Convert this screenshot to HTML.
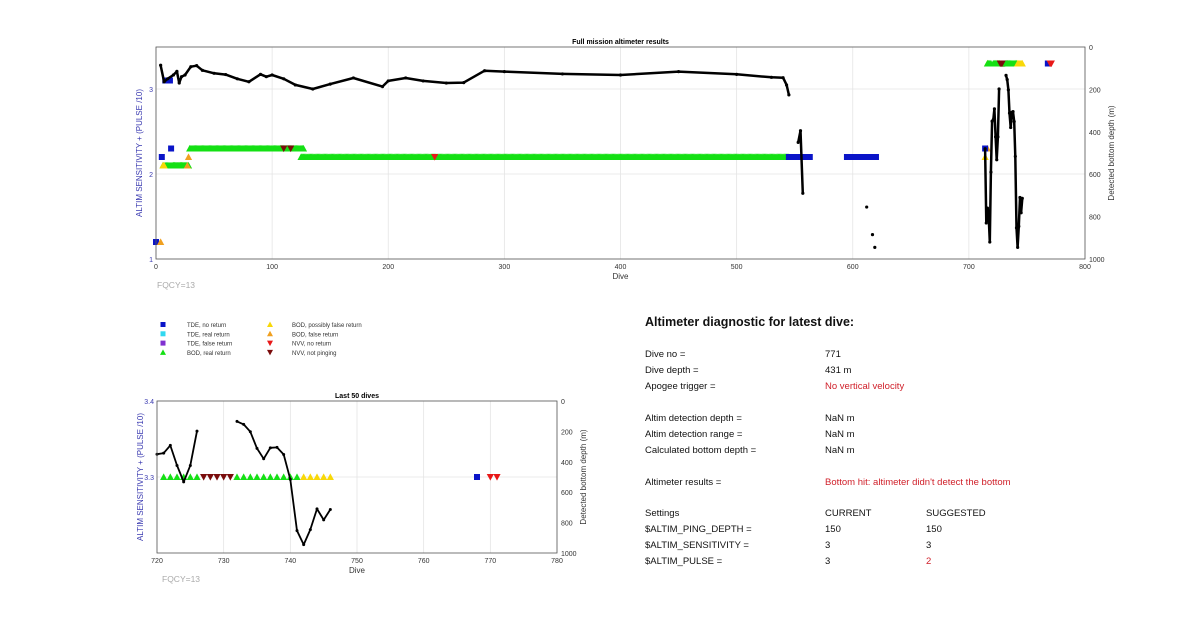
<!DOCTYPE html>
<html><head><meta charset="utf-8"><style>
html,body{margin:0;padding:0;background:#fff;width:1200px;height:622px;overflow:hidden}
svg{display:block;font-family:"Liberation Sans",sans-serif}
</style></head><body>
<svg id="svg" width="1200" height="622" viewBox="0 0 1200 622" xmlns="http://www.w3.org/2000/svg">
<g id="top"></g>
<g id="bot"></g>
<g id="legend"></g>
<g id="diag" font-size="9.5" fill="#111">
<text x="645" y="326" font-size="12.5" font-weight="bold">Altimeter diagnostic for latest dive:</text>
<text x="645" y="357">Dive no =</text><text x="825" y="357">771</text>
<text x="645" y="373">Dive depth =</text><text x="825" y="373">431 m</text>
<text x="645" y="389">Apogee trigger =</text><text x="825" y="389" fill="#d0202a">No vertical velocity</text>
<text x="645" y="421">Altim detection depth =</text><text x="825" y="421">NaN m</text>
<text x="645" y="437">Altim detection range =</text><text x="825" y="437">NaN m</text>
<text x="645" y="453">Calculated bottom depth =</text><text x="825" y="453">NaN m</text>
<text x="645" y="485">Altimeter results =</text><text x="825" y="485" fill="#d0202a">Bottom hit: altimeter didn't detect the bottom</text>
<text x="645" y="516">Settings</text><text x="825" y="516">CURRENT</text><text x="926" y="516">SUGGESTED</text>
<text x="645" y="532">$ALTIM_PING_DEPTH =</text><text x="825" y="532">150</text><text x="926" y="532">150</text>
<text x="645" y="548">$ALTIM_SENSITIVITY =</text><text x="825" y="548">3</text><text x="926" y="548">3</text>
<text x="645" y="564">$ALTIM_PULSE =</text><text x="825" y="564">3</text><text x="926" y="564" fill="#d0202a">2</text>
</g>
</svg>
<script>
// ---- data ----
const depthDives = [4,7,10,15,18,20,22,25,30,35,40,50,60,70,80,90,95,100,110,120,135,150,170,195,200,215,230,250,265,283,300,350,400,450,500,530,540,543,545,null,553,555,557,null,612,null,617,null,619,null,714,715,716,717,718,719,720,721,722,723,724,725,726,null,732,733,734,735,736,737,738,739,740,741,742,743,744,745,746];
const depthVals  = [86,164,150,132,115,170,140,132,93,88,110,124,130,150,164,129,140,132,150,179,198,175,146,187,160,146,160,170,168,112,116,127,132,116,129,143,145,179,226,null,450,395,690,null,755,null,885,null,945,null,480,830,760,790,920,590,350,343,292,424,532,424,198,null,134,154,202,312,380,308,305,352,516,853,945,846,710,782,714];
// marker runs: type, first dive, last dive, value
const runType  = ['tde_no','bod_false','tde_no','tde_no','bod_real','bod_pfalse','bod_real','bod_false','tde_no','bod_false','bod_real','bod_real','nvv_np','nvv_np','bod_real','nvv_no','tde_no','tde_no','tde_no','bod_pfalse','bod_false','tde_no','bod_pfalse','bod_real','bod_real','nvv_np','bod_real','bod_pfalse','tde_no','nvv_no'];
const runStart = [0,4,5,13,6,6,15,27,8,28,29,125,110,116,125,240,545,595,556,714,716,714,716,716,721,727,732,742,768,770];
const runEnd   = [0,4,5,13,28,7,26,27,12,28,127,545,110,116,125,240,563,620,556,714,716,714,716,719,726,731,741,746,768,771];
const runVal   = [1.2,1.2,2.2,2.3,2.1,2.1,2.1,2.1,3.1,2.2,2.3,2.2,2.3,2.3,2.2,2.2,2.2,2.2,2.2,2.2,2.3,2.3,3.3,3.3,3.3,3.3,3.3,3.3,3.3,3.3];
const topXTicks=[0,100,200,300,400,500,600,700,800];
const topYTicks=[1,2,3];
const rTicks=[0,200,400,600,800,1000];
const botXTicks=[720,730,740,750,760,770,780];
const botYTicks=['3.3','3.4'];
// ---- helpers ----
const NS='http://www.w3.org/2000/svg';
function mk(tag,attrs,parent){const e=document.createElementNS(NS,tag);for(const k in attrs)e.setAttribute(k,attrs[k]);parent.appendChild(e);return e;}
const colors={tde_no:'#0a14c8',tde_real:'#30d8f0',tde_false:'#8030d0',bod_real:'#14e014',bod_pfalse:'#f8d808',bod_false:'#f0a020',nvv_no:'#e81818',nvv_np:'#7a0c0c'};
function marker(type,cx,cy,s,g){
  let el;
  if(type.startsWith('tde')) el=mk('rect',{x:cx-s*0.5,y:cy-s*0.5,width:s,height:s,fill:colors[type]},g);
  else if(type.startsWith('bod')) el=mk('polygon',{points:`${cx-s*0.6},${cy+s*0.5} ${cx+s*0.6},${cy+s*0.5} ${cx},${cy-s*0.6}`,fill:colors[type]},g);
  else el=mk('polygon',{points:`${cx-s*0.6},${cy-s*0.5} ${cx+s*0.6},${cy-s*0.5} ${cx},${cy+s*0.6}`,fill:colors[type]},g);
  
  
  return el;
}
function chart(g,o){
  const X=d=>o.l+(d-o.x0)/(o.x1-o.x0)*(o.r-o.l);
  const Y=v=>o.b-(v-o.y0)/(o.y1-o.y0)*(o.b-o.t);
  const R=v=>o.t+v/1000*(o.b-o.t);
  o.xt.forEach(t=>{const l=mk('line',{x1:X(t),x2:X(t),y1:o.t,y2:o.b,stroke:'#e4e4e4','stroke-width':0.8},g);
    });
  o.yt.forEach(t=>{const l=mk('line',{x1:o.l,x2:o.r,y1:Y(+t),y2:Y(+t),stroke:'#e4e4e4','stroke-width':0.8},g);
    });
  const mg=mk('g',{},g);
  runType.forEach((t,i)=>{for(let d=runStart[i];d<=runEnd[i];d++){if(d<o.x0||d>o.x1)continue;marker(t,X(d),Y(runVal[i]),o.ms,mg);}});
  let path='',pen=false;const pts=[];
  depthDives.forEach((d,i)=>{const v=depthVals[i];if(d===null||v===null||d<o.x0||d>o.x1){pen=false;return;}
    path+=(pen?'L':'M')+X(d).toFixed(1)+' '+R(v).toFixed(1)+' ';pen=true;pts.push([X(d),R(v)]);});
  const p=mk('path',{d:path,fill:'none',stroke:'#000','stroke-width':o.lw,'stroke-linejoin':'round'},g);
  
  pts.forEach(q=>{const c=mk('circle',{cx:q[0],cy:q[1],r:o.pr,fill:'#000'},g);});
  const f=mk('rect',{x:o.l,y:o.t,width:o.r-o.l,height:o.b-o.t,fill:'none',stroke:'#555','stroke-width':0.8},g);
  
  o.xt.forEach(t=>{const tx=mk('text',{x:X(t),y:o.b+10,'font-size':o.fs,'text-anchor':'middle',fill:'#333'},g);tx.textContent=t;
    });
  o.yt.forEach(t=>{const tx=mk('text',{x:o.l-3,y:Y(+t)+3,'font-size':o.fs,'text-anchor':'end',fill:'#3a3ab0'},g);tx.textContent=t;
    });
  rTicks.forEach(t=>{const tx=mk('text',{x:o.r+4,y:R(t)+3,'font-size':o.fs,fill:'#333'},g);tx.textContent=t;
    });
  const ti=mk('text',{x:(o.l+o.r)/2,y:o.t-3,'font-size':7,'font-weight':'bold','text-anchor':'middle',fill:'#000'},g);ti.textContent=o.title;
  
  const xl=mk('text',{x:(o.l+o.r)/2,y:o.b+20,'font-size':8,'text-anchor':'middle',fill:'#333'},g);xl.textContent='Dive';
  
  const yl=mk('text',{transform:`translate(${o.l-14},${(o.t+o.b)/2}) rotate(-90)`,'font-size':8,'text-anchor':'middle',fill:'#3a3ab0'},g);yl.textContent='ALTIM SENSITIVITY + (PULSE /10)';
  
  const rl=mk('text',{transform:`translate(${o.r+29},${(o.t+o.b)/2}) rotate(-90)`,'font-size':8,'text-anchor':'middle',fill:'#333'},g);rl.textContent='Detected bottom depth (m)';
  
  const fq=mk('text',{x:o.l+o.fqdx,y:o.b+29,'font-size':8.5,fill:'#aaa'},g);fq.textContent='FQCY=13';
  
}
chart(document.getElementById('top'),{l:156,r:1085,t:47,b:259,x0:0,x1:800,y0:1,y1:3.4941,xt:topXTicks,yt:topYTicks,ms:6,lw:2.5,pr:1.6,fs:7,title:'Full mission altimeter results',fqdx:1});
chart(document.getElementById('bot'),{l:157,r:557,t:401,b:553,x0:720,x1:780,y0:3.2,y1:3.4,xt:botXTicks,yt:botYTicks,ms:6,lw:1.8,pr:1.5,fs:7,title:'Last 50 dives',fqdx:5});
const lg=document.getElementById('legend');
const legTypes=['tde_no','tde_real','tde_false','bod_real','bod_pfalse','bod_false','nvv_no','nvv_np'];
const legLabels=['TDE, no return','TDE, real return','TDE, false return','BOD, real return','BOD, possibly false return','BOD, false return','NVV, no return','NVV, not pinging'];
legTypes.forEach((t,i)=>{const col=Math.floor(i/4),row=i%4;
  const mx=col?270:163,ty=327+row*9.3;
  marker(t,mx,ty-2.5,5,lg);
  const tx=mk('text',{x:col?292:187,y:ty,'font-size':6,fill:'#333'},lg);tx.textContent=legLabels[i];
  });
</script>
</body></html>
